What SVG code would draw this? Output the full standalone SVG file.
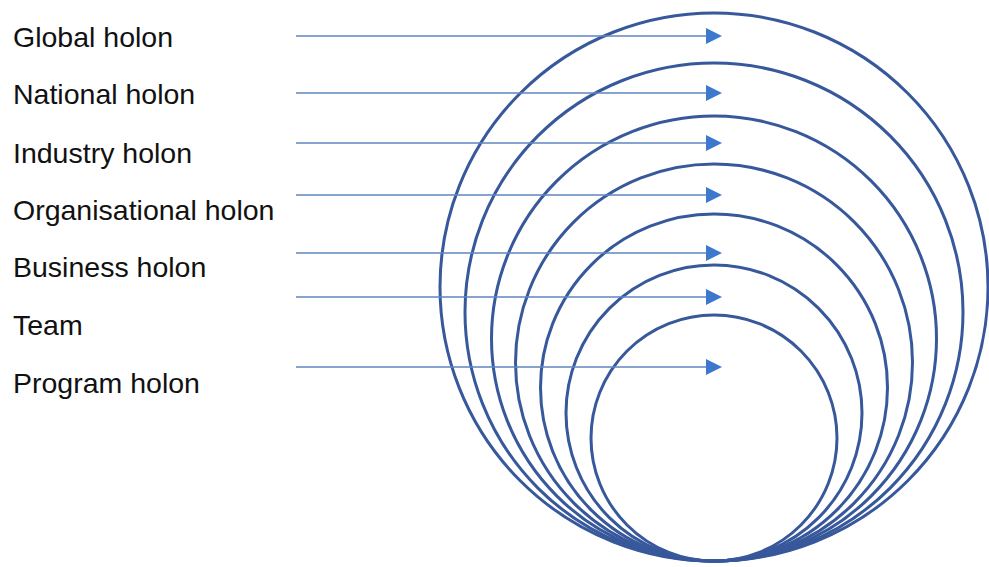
<svg xmlns="http://www.w3.org/2000/svg" width="989" height="567" viewBox="0 0 989 567">
<style>
.lbl{font-family:"Liberation Sans",Arial,sans-serif;font-size:28.5px;fill:#111}
.ring{fill:none;stroke:#37589b;stroke-width:3}
.conn{stroke:#5f86c2;stroke-width:1.5;fill:none}
.head{fill:#3d78cf}
</style>
<rect width="989" height="567" fill="#fff"/>
<g id="rings">
<circle class="ring" cx="714" cy="287" r="274"/>
<circle class="ring" cx="714" cy="312" r="249"/>
<circle class="ring" cx="714" cy="338.5" r="222.5"/>
<circle class="ring" cx="714" cy="362.5" r="198.5"/>
<circle class="ring" cx="714" cy="387.5" r="173.5"/>
<circle class="ring" cx="714" cy="413" r="148"/>
<circle class="ring" cx="714" cy="438" r="123"/>
</g>
<g id="n1"><text class="lbl" x="13" y="47">Global holon</text></g>
<g id="n2"><text class="lbl" x="13" y="104">National holon</text></g>
<g id="n3"><text class="lbl" x="13" y="163">Industry holon</text></g>
<g id="n4"><text class="lbl" x="13" y="220">Organisational holon</text></g>
<g id="n5"><text class="lbl" x="13" y="277">Business holon</text></g>
<g id="n6"><text class="lbl" x="13" y="335">Team</text></g>
<g id="n7"><text class="lbl" x="13" y="393">Program holon</text></g>
<g id="connectors">
<line class="conn" x1="296" y1="36" x2="708" y2="36"/><polygon class="head" points="706,28 722,36 706,44"/>
<line class="conn" x1="296" y1="93" x2="708" y2="93"/><polygon class="head" points="706,85 722,93 706,101"/>
<line class="conn" x1="296" y1="143" x2="708" y2="143"/><polygon class="head" points="706,135 722,143 706,151"/>
<line class="conn" x1="296" y1="195" x2="708" y2="195"/><polygon class="head" points="706,187 722,195 706,203"/>
<line class="conn" x1="296" y1="253" x2="708" y2="253"/><polygon class="head" points="706,245 722,253 706,261"/>
<line class="conn" x1="296" y1="297" x2="708" y2="297"/><polygon class="head" points="706,289 722,297 706,305"/>
<line class="conn" x1="296" y1="367" x2="708" y2="367"/><polygon class="head" points="706,359 722,367 706,375"/>
</g>
</svg>
